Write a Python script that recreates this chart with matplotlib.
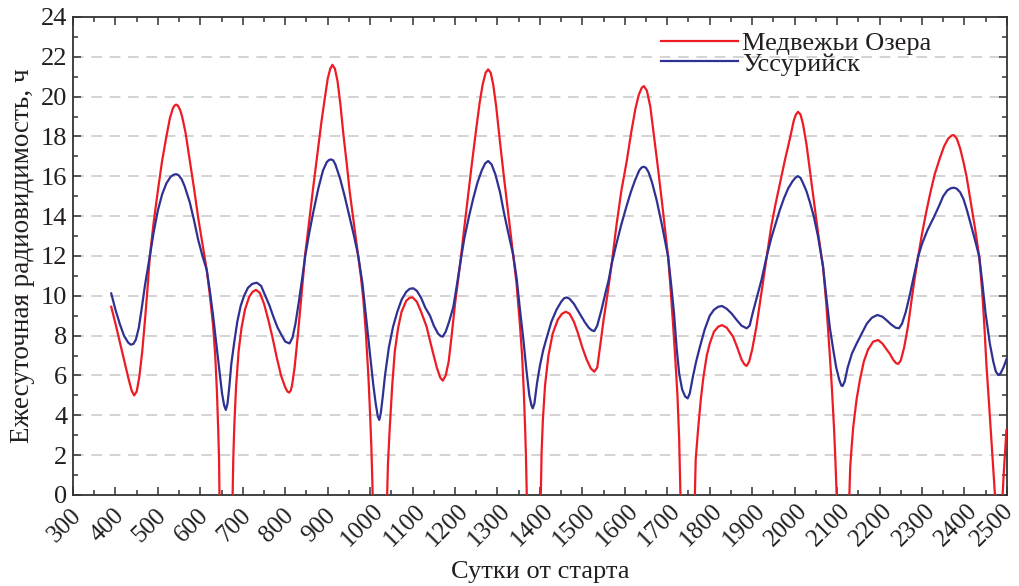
import numpy as np
import matplotlib
matplotlib.use('Agg')
import matplotlib.pyplot as plt
import matplotlib.transforms as mtransforms
from matplotlib.ticker import MultipleLocator

# daily radio visibility, hours; NaN = no visibility gap (curve clipped at 0)
nan = np.nan

days_mo = [390, 400, 410, 420, 430, 438, 444, 450, 456, 463, 470, 476, 481, 490, 500, 510, 520, 528, 535, 539, 543,
           547, 552, 557, 565, 575, 585, 595, 605, 615, 622, 630, 635, 639, 642, 644, 645, 660,
           676, 677.5, 680, 684, 690, 697, 705, 715, 723, 731, 740, 750, 760, 770, 780, 790, 800, 805, 809, 813, 816,
           822, 830, 838, 847, 855, 865, 875, 885, 893, 900, 906, 911, 917, 923, 930, 937, 945, 952, 962,
           972, 978, 984, 990, 996, 1000, 1003, 1006, 1020,
           1040, 1042, 1046, 1052, 1058, 1066, 1074, 1085, 1093, 1100, 1110, 1120, 1133, 1145, 1157, 1165,
           1171, 1178, 1185, 1192, 1200, 1206, 1212, 1220, 1230, 1240, 1250, 1258, 1265, 1272, 1278, 1284,
           1290, 1297, 1306, 1315, 1325, 1337, 1345, 1353, 1358, 1362, 1365, 1367, 1369, 1385,
           1402, 1404, 1407, 1412, 1420, 1430, 1442, 1452, 1461, 1470, 1480, 1490, 1500, 1510, 1520, 1528,
           1535, 1542, 1550, 1560, 1569, 1580, 1592, 1604, 1615, 1625, 1633, 1640, 1645, 1652, 1660, 1667,
           1677, 1687, 1695, 1702, 1708, 1714, 1719, 1724, 1728, 1731, 1750,
           1765, 1767, 1773, 1779, 1785, 1793, 1800, 1810, 1820, 1829, 1840, 1855, 1865, 1875, 1882, 1887,
           1893, 1900, 1910, 1920, 1927, 1934, 1945, 1955, 1965, 1977, 1989, 1998, 2003, 2008, 2014, 2020,
           2028, 2036, 2045, 2055, 2067, 2075, 2083, 2088, 2093, 2096, 2099, 2115,
           2129, 2131, 2135, 2138, 2146, 2154, 2163, 2173, 2185, 2197, 2207, 2217, 2224, 2232, 2239, 2244,
           2250, 2258, 2267, 2275, 2283, 2291, 2300, 2310, 2320, 2330, 2342, 2352, 2362, 2370, 2375, 2382,
           2390, 2398, 2405, 2415, 2425, 2435, 2442, 2447, 2452, 2458, 2464, 2469, 2472, 2480,
           2490, 2493, 2496, 2499]
hours_mo = [9.45, 8.6, 7.7, 6.8, 5.9, 5.25, 5.0, 5.2, 5.9, 7.2, 8.9, 10.5, 12.0, 13.7, 15.3, 16.8, 18.0, 18.9, 19.4, 19.55, 19.6,
            19.55, 19.35, 19.0, 18.2, 16.8, 15.4, 13.9, 12.6, 11.3, 10.1, 8.5, 7.0, 5.2, 3.3, 1.8, 0, nan,
            0, 1.8, 3.5, 5.4, 7.2, 8.4, 9.3, 9.95, 10.2, 10.3, 10.15, 9.6, 8.8, 7.9, 6.9, 6.0, 5.4, 5.2, 5.14, 5.25, 5.5,
            6.4, 8.1, 10.0, 12.1, 13.5, 15.3, 17.0, 18.7, 19.9, 20.9, 21.4, 21.6, 21.4, 20.8, 19.6, 18.1, 16.6, 15.2, 13.6,
            12.0, 11.0, 9.8, 8.1, 5.9, 4.0, 2.3, 0, nan,
            0, 1.6, 3.3, 5.5, 7.2, 8.4, 9.2, 9.75, 9.9, 9.92, 9.7, 9.2, 8.45, 7.4, 6.4, 5.9,
            5.74, 6.0, 6.7, 8.0, 9.6, 10.6, 11.6, 13.1, 14.9, 16.7, 18.4, 19.7, 20.6, 21.2, 21.37, 21.2,
            20.6, 19.5, 17.7, 16.0, 14.2, 12.05, 10.6, 8.5, 7.0, 5.2, 3.4, 2.0, 0, nan,
            0, 2.2, 3.8, 5.5, 7.0, 8.1, 8.8, 9.1, 9.2, 9.1, 8.7, 8.1, 7.4, 6.8, 6.35, 6.19,
            6.4, 7.5, 8.8, 10.2, 11.6, 13.5, 15.3, 16.7, 18.2, 19.4, 20.1, 20.45, 20.53, 20.3, 19.5, 18.3,
            16.6, 14.8, 13.3, 11.96, 10.3, 8.45, 6.8, 5.0, 2.8, 0, nan,
            0, 1.8, 3.4, 4.8, 5.9, 7.0, 7.6, 8.2, 8.45, 8.53, 8.4, 7.95, 7.4, 6.8, 6.55, 6.48,
            6.7, 7.3, 8.45, 9.9, 10.9, 11.96, 13.5, 14.6, 15.6, 16.8, 17.9, 18.8, 19.1, 19.24, 19.1, 18.6,
            17.6, 16.3, 14.8, 13.2, 11.46, 9.5, 7.0, 5.3, 3.3, 1.8, 0, nan,
            0, 1.4, 2.6, 3.4, 4.8, 5.8, 6.7, 7.3, 7.7, 7.78, 7.6, 7.3, 7.1, 6.8, 6.62, 6.58,
            6.75, 7.4, 8.45, 9.7, 10.9, 11.96, 13.1, 14.2, 15.2, 16.1, 16.9, 17.5, 17.9, 18.05, 18.07, 17.9,
            17.4, 16.7, 16.0, 14.7, 13.4, 11.96, 10.2, 8.5, 6.5, 4.6, 2.6, 1.0, 0, nan,
            0, 1.2, 2.2, 3.26]

days_us = [390, 400, 410, 420, 430, 436, 442, 448, 455, 462, 470, 481, 490, 500, 510, 520, 530, 537, 543,
           549, 556, 563, 575, 585, 595, 605, 615, 622, 630, 638, 645, 651, 656, 660, 664, 668, 673, 680,
           687, 695, 703, 712, 722, 733, 743, 753, 763, 772, 782, 792, 800, 810, 817, 824, 832, 840,
           847, 856, 866, 878, 889, 898, 903, 908, 913, 918, 929, 940, 952, 962, 972, 982, 992, 1000, 1007, 1013,
           1018, 1021.5, 1025, 1030, 1035, 1044, 1054, 1064, 1074, 1085, 1093, 1101.6, 1110, 1120, 1130, 1141,
           1150, 1160, 1166, 1171, 1178, 1186, 1196, 1204, 1212, 1222, 1233, 1243, 1253, 1263, 1271, 1278,
           1286, 1295, 1306, 1315, 1325, 1337, 1345, 1353, 1361, 1368, 1375, 1380, 1383, 1387, 1393, 1400,
           1408, 1416, 1427, 1439, 1450, 1457, 1463, 1470, 1480, 1494, 1505, 1515, 1522, 1528, 1535, 1545,
           1555, 1562, 1569, 1580, 1592, 1604, 1614, 1624, 1634, 1640, 1645, 1650, 1656, 1664, 1675, 1688, 1702,
           1710, 1716, 1722, 1728, 1735, 1742, 1748, 1753, 1760, 1768, 1777, 1788, 1800, 1810, 1820, 1829,
           1840, 1852, 1863, 1875, 1887, 1894, 1902, 1912, 1922, 1934, 1945, 1955, 1965, 1975, 1985, 1995,
           2002, 2008, 2014, 2020, 2028, 2036, 2045, 2055, 2067, 2075, 2083, 2091, 2098, 2105, 2110, 2113, 2118,
           2125, 2135, 2146, 2158, 2170, 2182, 2195, 2207, 2218, 2228, 2238, 2246, 2253, 2262, 2272, 2281,
           2291, 2300, 2313, 2327, 2340, 2350, 2360, 2368, 2375, 2382, 2390, 2398, 2406, 2415, 2425, 2435, 2442,
           2450, 2460, 2468, 2474, 2480, 2485, 2492, 2499]
hours_us = [10.12, 9.3, 8.6, 8.0, 7.65, 7.55, 7.58, 7.8, 8.4, 9.4, 10.6, 12.0, 13.2, 14.3, 15.1, 15.65, 15.98, 16.08, 16.11,
            16.05, 15.85, 15.5, 14.7, 13.8, 12.8, 12.0, 11.3, 10.3, 9.0, 7.5, 6.2, 5.1, 4.5, 4.27, 4.6, 5.4, 6.6, 7.7,
            8.7, 9.5, 10.0, 10.4, 10.6, 10.66, 10.5, 10.0, 9.5, 8.95, 8.4, 8.0, 7.7, 7.61, 7.9, 8.6, 9.7, 10.9,
            12.0, 13.1, 14.2, 15.4, 16.3, 16.72, 16.82, 16.85, 16.8, 16.6, 15.9, 15.0, 13.9, 13.0, 12.0, 10.6, 8.6, 7.0, 5.6, 4.6,
            3.95, 3.77, 4.1, 5.0, 6.0, 7.4, 8.45, 9.2, 9.8, 10.2, 10.35, 10.38, 10.25, 9.9, 9.4, 9.0,
            8.5, 8.1, 7.98, 7.95, 8.2, 8.7, 9.45, 10.5, 11.6, 12.9, 14.0, 14.9, 15.7, 16.3, 16.65, 16.77,
            16.6, 16.1, 15.2, 14.2, 13.2, 12.05, 10.9, 9.3, 7.8, 6.3, 5.0, 4.5, 4.35, 4.6, 5.6, 6.5,
            7.3, 7.9, 8.7, 9.3, 9.7, 9.88, 9.92, 9.85, 9.6, 9.1, 8.7, 8.4, 8.27, 8.23, 8.5, 9.3,
            10.2, 10.8, 11.6, 12.6, 13.6, 14.5, 15.2, 15.8, 16.3, 16.45, 16.48, 16.42, 16.2, 15.7, 14.8, 13.5, 11.96,
            10.4, 9.1, 7.4, 6.1, 5.3, 4.95, 4.85, 5.1, 5.9, 6.7, 7.45, 8.3, 9.0, 9.3, 9.45, 9.49,
            9.35, 9.1, 8.8, 8.5, 8.37, 8.5, 9.2, 10.0, 10.8, 11.96, 12.9, 13.6, 14.3, 14.9, 15.4, 15.75,
            15.93, 16.01, 15.92, 15.65, 15.25, 14.7, 14.0, 13.0, 11.46, 9.9, 8.4, 7.3, 6.4, 5.8, 5.5, 5.47, 5.7,
            6.4, 7.1, 7.6, 8.1, 8.6, 8.9, 9.04, 8.95, 8.75, 8.55, 8.4, 8.37, 8.6, 9.2, 10.1, 11.0,
            11.96, 12.6, 13.3, 13.9, 14.5, 15.0, 15.3, 15.4, 15.43, 15.38, 15.2, 14.85, 14.3, 13.6, 12.8, 11.96, 10.7,
            9.1, 7.6, 6.7, 6.2, 6.02, 6.1, 6.4, 6.81]

labels = ['Медвежьи Озера', 'Уссурийск']

plt.rcParams['font.family'] = ['Liberation Serif', 'DejaVu Serif']
text_color = '#231f20'

fig = plt.figure(figsize=(10.2, 5.86), dpi=100)
ax = fig.add_axes([0.0716, 0.1553, 0.9155, 0.8157])

ax.plot(days_mo, hours_mo, color='#ed1c24', lw=1.6, label=labels[0], zorder=3)
ax.plot(days_us, hours_us, color='#2e3192', lw=1.6, label=labels[1], zorder=3)

ax.set_xlim(300, 2500)
ax.set_ylim(0, 24)
ax.xaxis.set_major_locator(MultipleLocator(100))
ax.xaxis.set_minor_locator(MultipleLocator(50))
ax.yaxis.set_major_locator(MultipleLocator(2))
ax.yaxis.set_minor_locator(MultipleLocator(1))
ax.tick_params(which='both', direction='in', top=True, right=True, width=1.1, color='#333333',
               labelsize=19, labelcolor=text_color)
ax.tick_params(which='major', length=6)
ax.tick_params(which='minor', length=3.5)
ax.tick_params(axis='y', pad=4)
ax.tick_params(axis='x', pad=22, labelsize=18)

# rotated day labels, centred slightly left of each tick;
# the 2500 one is pulled in a little more so it stays inside the figure
fig.canvas.draw()
for tick in ax.xaxis.get_major_ticks():
    lbl = tick.label1
    dx = -15 if abs(tick.get_loc() - 2500) < 1 else -8
    lbl.set_rotation(45)
    lbl.set_ha('center')
    lbl.set_va('center')
    lbl.set_rotation_mode('anchor')
    lbl.set_transform(lbl.get_transform() + mtransforms.ScaledTranslation(dx / 100, 0, fig.dpi_scale_trans))

for v in range(2, 24, 2):
    ax.axhline(v, color='#c8c8c8', lw=1.1, dashes=(7, 5), zorder=1)

for s in ax.spines.values():
    s.set_color('#333333')
    s.set_linewidth(1.3)

ax.set_xlabel('Сутки от старта', fontsize=19, color=text_color, va='center')
ax.xaxis.set_label_coords(0.5, -0.161)
ax.set_ylabel('Ежесуточная радиовидимость, ч', fontsize=19.5, color=text_color, va='center')
ax.yaxis.set_label_coords(-0.0546, 0.5)

ax.legend(loc='upper left', bbox_to_anchor=(0.63, 0.97), frameon=False, fontsize=19,
          handlelength=2.9, handletextpad=0.15, labelspacing=-0.1, borderaxespad=0, borderpad=0,
          labelcolor=text_color)

fig.savefig('out.png', dpi=100)
